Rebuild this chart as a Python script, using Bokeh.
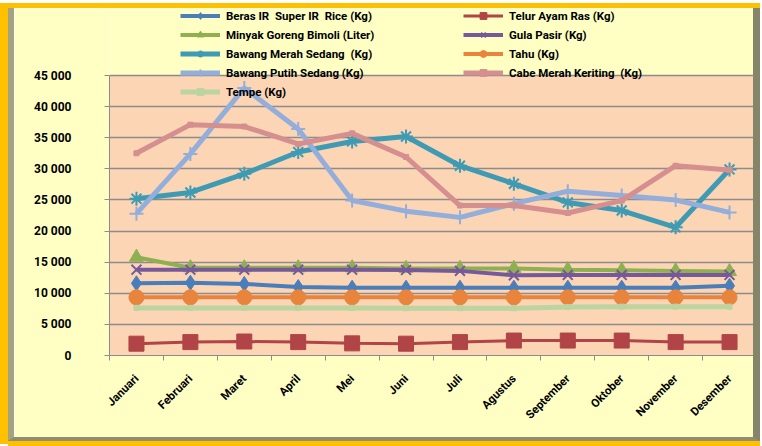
from math import pi
from bokeh.plotting import figure
from bokeh.models import FixedTicker, Range1d, BoxAnnotation
from bokeh.core.properties import value
from bokeh.embed import file_html
from bokeh.resources import INLINE

months = ["Januari", "Februari", "Maret", "April", "Mei", "Juni", "Juli",
          "Agustus", "September", "Oktober", "November", "Desember"]

beras = [11600, 11700, 11500, 11000, 10900, 10900, 10900, 10900, 10900, 10900, 10900, 11200]
telur = [1900, 2150, 2250, 2150, 1950, 1900, 2150, 2400, 2400, 2400, 2150, 2150]
minyak = [15800, 14100, 14100, 14100, 14100, 14000, 14000, 14000, 13800, 13700, 13600, 13500]
gula = [13800, 13800, 13800, 13800, 13800, 13750, 13600, 12900, 12950, 12950, 12950, 12950]
bawang_merah = [25200, 26200, 29200, 32700, 34400, 35200, 30500, 27600, 24600, 23300, 20600, 29900]
tahu = [9350, 9350, 9350, 9350, 9350, 9350, 9350, 9350, 9350, 9350, 9350, 9350]
bawang_putih = [22800, 32400, 43000, 36400, 24900, 23200, 22200, 24400, 26400, 25700, 25000, 23000]
cabe = [32500, 37100, 36800, 34000, 35700, 31900, 24100, 24100, 22900, 24900, 30500, 29800]
tempe = [7650, 7650, 7650, 7650, 7650, 7600, 7600, 7600, 7800, 7850, 7850, 7850]

y_ticks = [0, 5000, 10000, 15000, 20000, 25000, 30000, 35000, 40000, 45000]
y_tick_labels = ["0", "5 000", "10 000", "15 000", "20 000", "25 000",
                 "30 000", "35 000", "40 000", "45 000"]

series = [
    ("Beras IR  Super IR  Rice (Kg)", beras, "#4A7EBB", "diamond", 15, 4),
    ("Telur Ayam Ras (Kg)", telur, "#B04446", "square", 15, 3),
    ("Minyak Goreng Bimoli (Liter)", minyak, "#8FB050", "triangle", 14, 4),
    ("Gula Pasir (Kg)", gula, "#76599A", "x", 14, 4),
    ("Bawang Merah Sedang  (Kg)", bawang_merah, "#3E9BB3", "asterisk", 14, 5),
    ("Tahu (Kg)", tahu, "#E8843C", "circle", 15, 4),
    ("Bawang Putih Sedang (Kg)", bawang_putih, "#93AEDA", "cross", 14, 5),
    ("Cabe Merah Keriting  (Kg)", cabe, "#D48F8E", "square", 5, 5),
    ("Tempe (Kg)", tempe, "#BCD4A0", "square", 5, 5),
]

FONT = "Liberation Sans Narrow, Roboto, sans-serif"

# layout (pixels)
W, H = 752, 433
BL, BR, BB = 6, 7, 4
frame_bottom_px = 347      # canvas y of value 0
axis_px = 280              # pixels spanned by 0..45000
y_end = y_ticks[-1] * frame_bottom_px / axis_px

x = list(range(len(months)))

p = figure(width=W, height=H, output_backend="svg", toolbar_location=None,
           x_range=Range1d(-0.5, len(months) - 0.5), y_range=Range1d(0, y_end),
           min_border_left=95, min_border_right=10, min_border_top=0,
           min_border_bottom=H - frame_bottom_px)
p.styles = {"margin-left": "8px", "margin-top": "8px",
            "border-left": f"{BL}px solid #A3A383", "border-right": f"{BR}px solid #85856A",
            "border-bottom": f"{BB}px solid #8E8E72",
            "box-shadow": "-4px -1px 0 4px #FFC000, 0 5px 0 0 #FFC000"}

p.background_fill_color = "#FFFFC4"
p.border_fill_color = "#FFFFC4"
p.outline_line_color = None

p.add_layout(BoxAnnotation(bottom=y_ticks[0], top=y_ticks[-1], fill_color="#FCD5B5",
                           fill_alpha=1, line_color=None, level="image"))

p.xgrid.visible = False
p.ygrid.ticker = FixedTicker(ticks=y_ticks)
p.ygrid.grid_line_color = "#8C8C8C"
p.ygrid.grid_line_width = 1.5

p.yaxis.bounds = (y_ticks[0], y_ticks[-1])
p.yaxis.ticker = FixedTicker(ticks=y_ticks)
p.yaxis.major_label_overrides = dict(zip(y_ticks, y_tick_labels))
p.yaxis.major_label_text_font = FONT
p.yaxis.major_label_text_font_style = "bold"
p.yaxis.major_label_text_font_size = "12px"
p.yaxis.major_label_text_color = "black"
p.yaxis.axis_line_color = "#8C8C8C"
p.yaxis.major_tick_line_color = "#8C8C8C"
p.yaxis.major_tick_out = 5
p.yaxis.major_tick_in = 0
p.yaxis.minor_tick_line_color = None
p.yaxis.major_label_standoff = 33

p.xaxis.ticker = FixedTicker(ticks=x, minor_ticks=[i - 0.5 for i in range(len(months) + 1)])
p.xaxis.major_label_overrides = dict(zip(x, months))
p.xaxis.major_label_text_font = FONT
p.xaxis.major_label_text_font_style = "bold"
p.xaxis.major_label_text_font_size = "11.5px"
p.xaxis.major_label_text_color = "black"
p.xaxis.major_label_orientation = pi / 4
p.xaxis.axis_line_color = "#8C8C8C"
p.xaxis.major_tick_line_color = None
p.xaxis.major_tick_out = 0
p.xaxis.major_tick_in = 0
p.xaxis.minor_tick_line_color = "#8C8C8C"
p.xaxis.minor_tick_out = 5
p.xaxis.minor_tick_in = 0
p.xaxis.major_label_standoff = 16

for name, vals, color, marker, size, lw in series:
    p.line(x, vals, line_color=color, line_width=lw, legend_label=name)
    p.scatter(x, vals, marker=marker, size=size, fill_color=color, line_color=color,
              line_width=2 if marker in ("x", "asterisk", "cross") else 1,
              legend_label=name)

lg = p.legend[0]
lg.location = (71, 255)
lg.orientation = "horizontal"
lg.ncols = 2
lg.background_fill_alpha = 0
lg.border_line_color = None
lg.padding = 0
lg.margin = 0
lg.spacing = 2
lg.glyph_width = 40
lg.glyph_height = 17
lg.label_height = 17
lg.label_width = 235
lg.label_standoff = 6
lg.label_text_font = FONT
lg.label_text_font_style = "bold"
lg.label_text_font_size = "11.5px"
lg.label_text_color = "black"

open("out.html", "w").write(file_html(p, INLINE))
